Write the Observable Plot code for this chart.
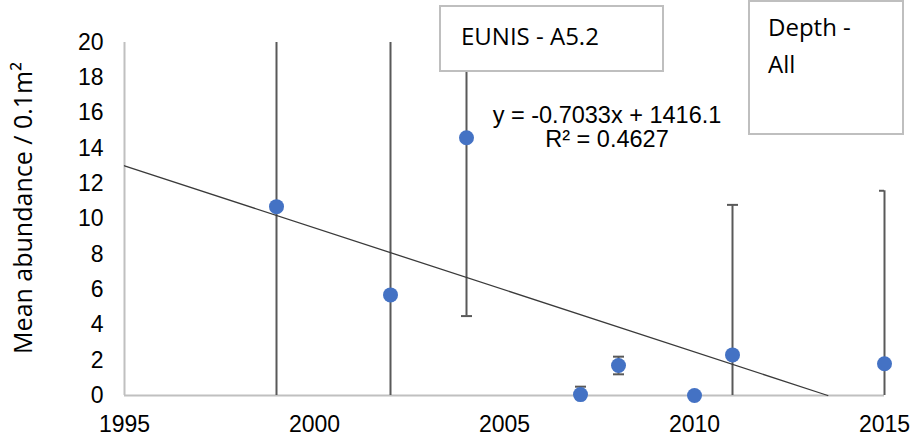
<!DOCTYPE html>
<html>
<head>
<meta charset="utf-8">
<script src="https://cdn.jsdelivr.net/npm/d3@7"></script>
<script src="https://cdn.jsdelivr.net/npm/@observablehq/plot@0.6"></script>
<style>
  html, body { margin: 0; padding: 0; background: #fff; }
  #chart { width: 915px; height: 441px; }
</style>
</head>
<body>
<div id="chart"></div>
<script>
// ---- data ----
const years = [1999, 2002, 2004, 2007, 2008, 2010, 2011, 2015];
const means = [10.7, 5.7, 14.6, 0.05, 1.7, 0, 2.3, 1.8];
const errors = [12.5, 16, 10.1, 0.45, 0.5, 0, 8.5, 9.8];
const xTicks = [1995, 2000, 2005, 2010, 2015];
const yTicks = [0, 2, 4, 6, 8, 10, 12, 14, 16, 18, 20];
const trendSlope = -0.7033;
const trendIntercept = 1416.1;
const yLabel = "Mean abundance / 0.1m²";
const equationLines = ["y = -0.7033x + 1416.1", "R² = 0.4627"];
const habitatLabel = "EUNIS - A5.2";
const depthLines = ["Depth -", "All"];

const yMin = yTicks[0], yMax = yTicks[yTicks.length - 1];
const rows = years.map((yr, i) => ({
  year: yr, mean: means[i], lo: means[i] - errors[i], hi: means[i] + errors[i]
}));
const trendEnd = -trendIntercept / trendSlope;
const trend = [xTicks[0], trendEnd].map(x => ({x, y: trendSlope * x + trendIntercept}));

const capSymbol = { draw(ctx) { ctx.moveTo(-5.5, 0); ctx.lineTo(5.5, 0); } };

const plot = Plot.plot({
  width: 915,
  height: 441,
  marginLeft: 124,
  marginRight: 31,
  marginTop: 42,
  marginBottom: 46,
  style: { fontFamily: "'Liberation Sans', Arial, sans-serif", fontSize: "23px", color: "#000", background: "#fff" },
  x: { domain: [xTicks[0], xTicks[xTicks.length - 1]], ticks: xTicks, tickFormat: d => String(d), tickSize: 0, tickPadding: 20, label: null },
  y: { domain: [yMin, yMax], ticks: yTicks, tickSize: 0, tickPadding: 21, label: null },
  marks: [
    Plot.ruleY([0], { stroke: "#c0c0c0", strokeWidth: 2 }),
    Plot.ruleX([xTicks[0]], { stroke: "#c0c0c0", strokeWidth: 2 }),
    Plot.ruleX(rows, { x: "year", y1: d => Math.max(d.lo, yMin), y2: d => Math.min(d.hi, yMax), stroke: "#595959", strokeWidth: 2 }),
    Plot.dot(rows, { x: "year", y: "lo", symbol: capSymbol, r: 5, stroke: "#595959", strokeWidth: 2, fill: "none", clip: true }),
    Plot.dot(rows, { x: "year", y: "hi", symbol: capSymbol, r: 5, stroke: "#595959", strokeWidth: 2, fill: "none", clip: true }),
    Plot.line(trend, { x: "x", y: "y", stroke: "#3a3a3a", strokeWidth: 1.3 }),
    Plot.dot(rows, { x: "year", y: "mean", r: 7.5, fill: "#4472C4", stroke: "none" })
  ]
});
document.getElementById("chart").appendChild(plot);

const svg = d3.select(plot);
// y axis title
svg.append("text")
  .attr("transform", "translate(32,208) rotate(-90)")
  .attr("text-anchor", "middle")
  .style("font-family", "'Open Sans', sans-serif")
  .style("font-size", "25px")
  .attr("fill", "#000")
  .text(yLabel);

// equation
equationLines.forEach((t, i) => {
  svg.append("text")
    .attr("x", 607).attr("y", 123 + i * 24)
    .attr("text-anchor", "middle")
    .style("font-family", "'Liberation Sans', Arial, sans-serif")
    .style("font-size", "23.5px")
    .attr("fill", "#000")
    .text(t);
});

// EUNIS box
svg.append("rect")
  .attr("x", 440).attr("y", 6).attr("width", 223).attr("height", 65)
  .attr("fill", "#fff").attr("stroke", "#bfbfbf").attr("stroke-width", 2);
svg.append("text")
  .attr("x", 461).attr("y", 45)
  .attr("text-anchor", "start")
  .style("font-family", "'Open Sans', sans-serif")
  .style("font-size", "24px")
  .attr("fill", "#000")
  .text(habitatLabel);

// Depth box
svg.append("rect")
  .attr("x", 749).attr("y", 1).attr("width", 154).attr("height", 133)
  .attr("fill", "#fff").attr("stroke", "#bfbfbf").attr("stroke-width", 2);
depthLines.forEach((t, i) => {
  svg.append("text")
    .attr("x", 768).attr("y", 36 + i * 37)
    .attr("text-anchor", "start")
    .style("font-family", "'Open Sans', sans-serif")
    .style("font-size", "24px")
    .attr("fill", "#000")
    .text(t);
});
</script>
</body>
</html>
